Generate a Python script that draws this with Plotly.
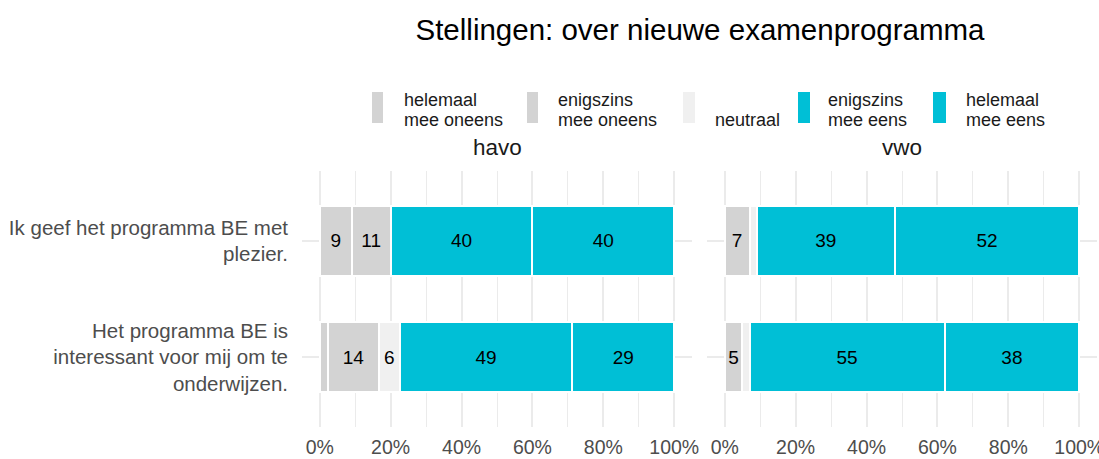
import plotly.graph_objects as go

categories = ["Ik geef het programma BE met<br>plezier.",
              "Het programma BE is<br>interessant voor mij om te<br>onderwijzen."]
levels = ["helemaal mee oneens", "enigszins mee oneens", "neutraal",
          "enigszins mee eens", "helemaal mee eens"]
legend_lines = [["helemaal", "mee oneens"], ["enigszins", "mee oneens"], ["", "neutraal"],
                ["enigszins", "mee eens"], ["helemaal", "mee eens"]]
colors = ["#d3d3d3", "#d3d3d3", "#f0f0f0", "#00bfd6", "#00bfd6"]
facets = ["havo", "vwo"]
tick_vals = [0, 20, 40, 60, 80, 100]
tick_text = ["0%", "20%", "40%", "60%", "80%", "100%"]

# percentages per level: [row1, row2]
havo = {
    levels[0]: [9, 2.3],
    levels[1]: [11, 14.4],
    levels[2]: [0, 5.9],
    levels[3]: [40, 48.6],
    levels[4]: [40, 28.8],
}
vwo = {
    levels[0]: [0, 0],
    levels[1]: [7, 5],
    levels[2]: [2, 2],
    levels[3]: [39, 55],
    levels[4]: [52, 38],
}
label_min = 4

W, H = 1099, 459
fig = go.Figure()

for panel, data, xa in [("havo", havo, "x"), ("vwo", vwo, "x2")]:
    for lev, col in zip(levels, colors):
        vals = data[lev]
        txt = [f"{round(v)}" if v >= label_min else "" for v in vals]
        fig.add_trace(go.Bar(
            y=categories, x=vals, orientation="h", name=lev,
            marker=dict(color=col, line=dict(color="white", width=2)),
            text=txt, textposition="inside", insidetextanchor="middle",
            textfont=dict(size=19, color="black"), textangle=0,
            xaxis=xa, yaxis="y", width=0.6,
            showlegend=False, hoverinfo="skip",
        ))

axis_common = dict(
    range=[-5, 105], tickmode="array", tickvals=tick_vals, ticktext=tick_text,
    showgrid=True, gridcolor="#ebebeb", gridwidth=2, zeroline=False,
    minor=dict(tickmode="array", tickvals=[10, 30, 50, 70, 90], showgrid=True,
               gridcolor="#ebebeb", gridwidth=1.2, ticks=""),
    tickfont=dict(size=19.5, color="#4d4d4d"), ticks="", showline=False,
    ticklabelstandoff=6, ticklabeloverflow="allow",
    fixedrange=True, automargin=False,
)

# manual legend (keys + labels), positions in pixels
key_x = [(372, 383), (527, 538), (683, 695), (798, 810), (933, 946)]
text_x = [402, 556, 713, 826, 964]
shapes = []
annotations = []
for (x0, x1), tx, col, lines in zip(key_x, text_x, colors, legend_lines):
    shapes.append(dict(type="rect", xref="paper", yref="paper",
                       x0=x0 / W, x1=x1 / W, y0=1 - 123 / H, y1=1 - 92 / H,
                       fillcolor=col, line=dict(width=0)))
    for ln, yy in zip(lines, [100, 120]):
        if ln:
            annotations.append(dict(text=ln, x=tx / W, y=1 - yy / H, xref="paper",
                                    yref="paper", showarrow=False, xanchor="left",
                                    yanchor="middle",
                                    font=dict(size=18, color="#1a1a1a")))

for name, cx in zip(facets, [497, 902]):
    annotations.append(dict(text=name, x=cx / W, y=1 - 147 / H, xref="paper",
                            yref="paper", showarrow=False,
                            font=dict(size=22.5, color="#1a1a1a"),
                            xanchor="center", yanchor="middle"))

fig.update_layout(
    width=W, height=H,
    margin=dict(l=0, r=0, t=0, b=0, pad=0),
    paper_bgcolor="white", plot_bgcolor="white",
    barmode="stack",
    showlegend=False,
    font=dict(family="Liberation Sans, Arial, sans-serif", color="#1a1a1a"),
    title=dict(text="Stellingen: over nieuwe examenprogramma",
               x=700 / W, xanchor="center", y=1 - 30 / H, yanchor="middle",
               font=dict(size=29.5, color="black"), automargin=False),
    xaxis=dict(domain=[302 / W, 692 / W], **axis_common),
    xaxis2=dict(domain=[707 / W, 1097 / W], **axis_common),
    yaxis=dict(domain=[1 - 427 / H, 1 - 171 / H], categoryorder="array",
               categoryarray=categories[::-1], range=[-0.6, 1.6], showgrid=True,
               gridcolor="#ebebeb", gridwidth=2, ticks="",
               tickfont=dict(size=20.5, color="#4d4d4d"), ticklabelstandoff=13,
               fixedrange=True, automargin=False),
    shapes=shapes,
    annotations=annotations,
)

fig.write_html(
    "out.html",
    config={"displayModeBar": False, "responsive": False},
    post_script=("document.body.style.margin='0';"
                 "document.body.style.overflow='hidden';"
                 "document.documentElement.style.overflow='hidden';"),
)
